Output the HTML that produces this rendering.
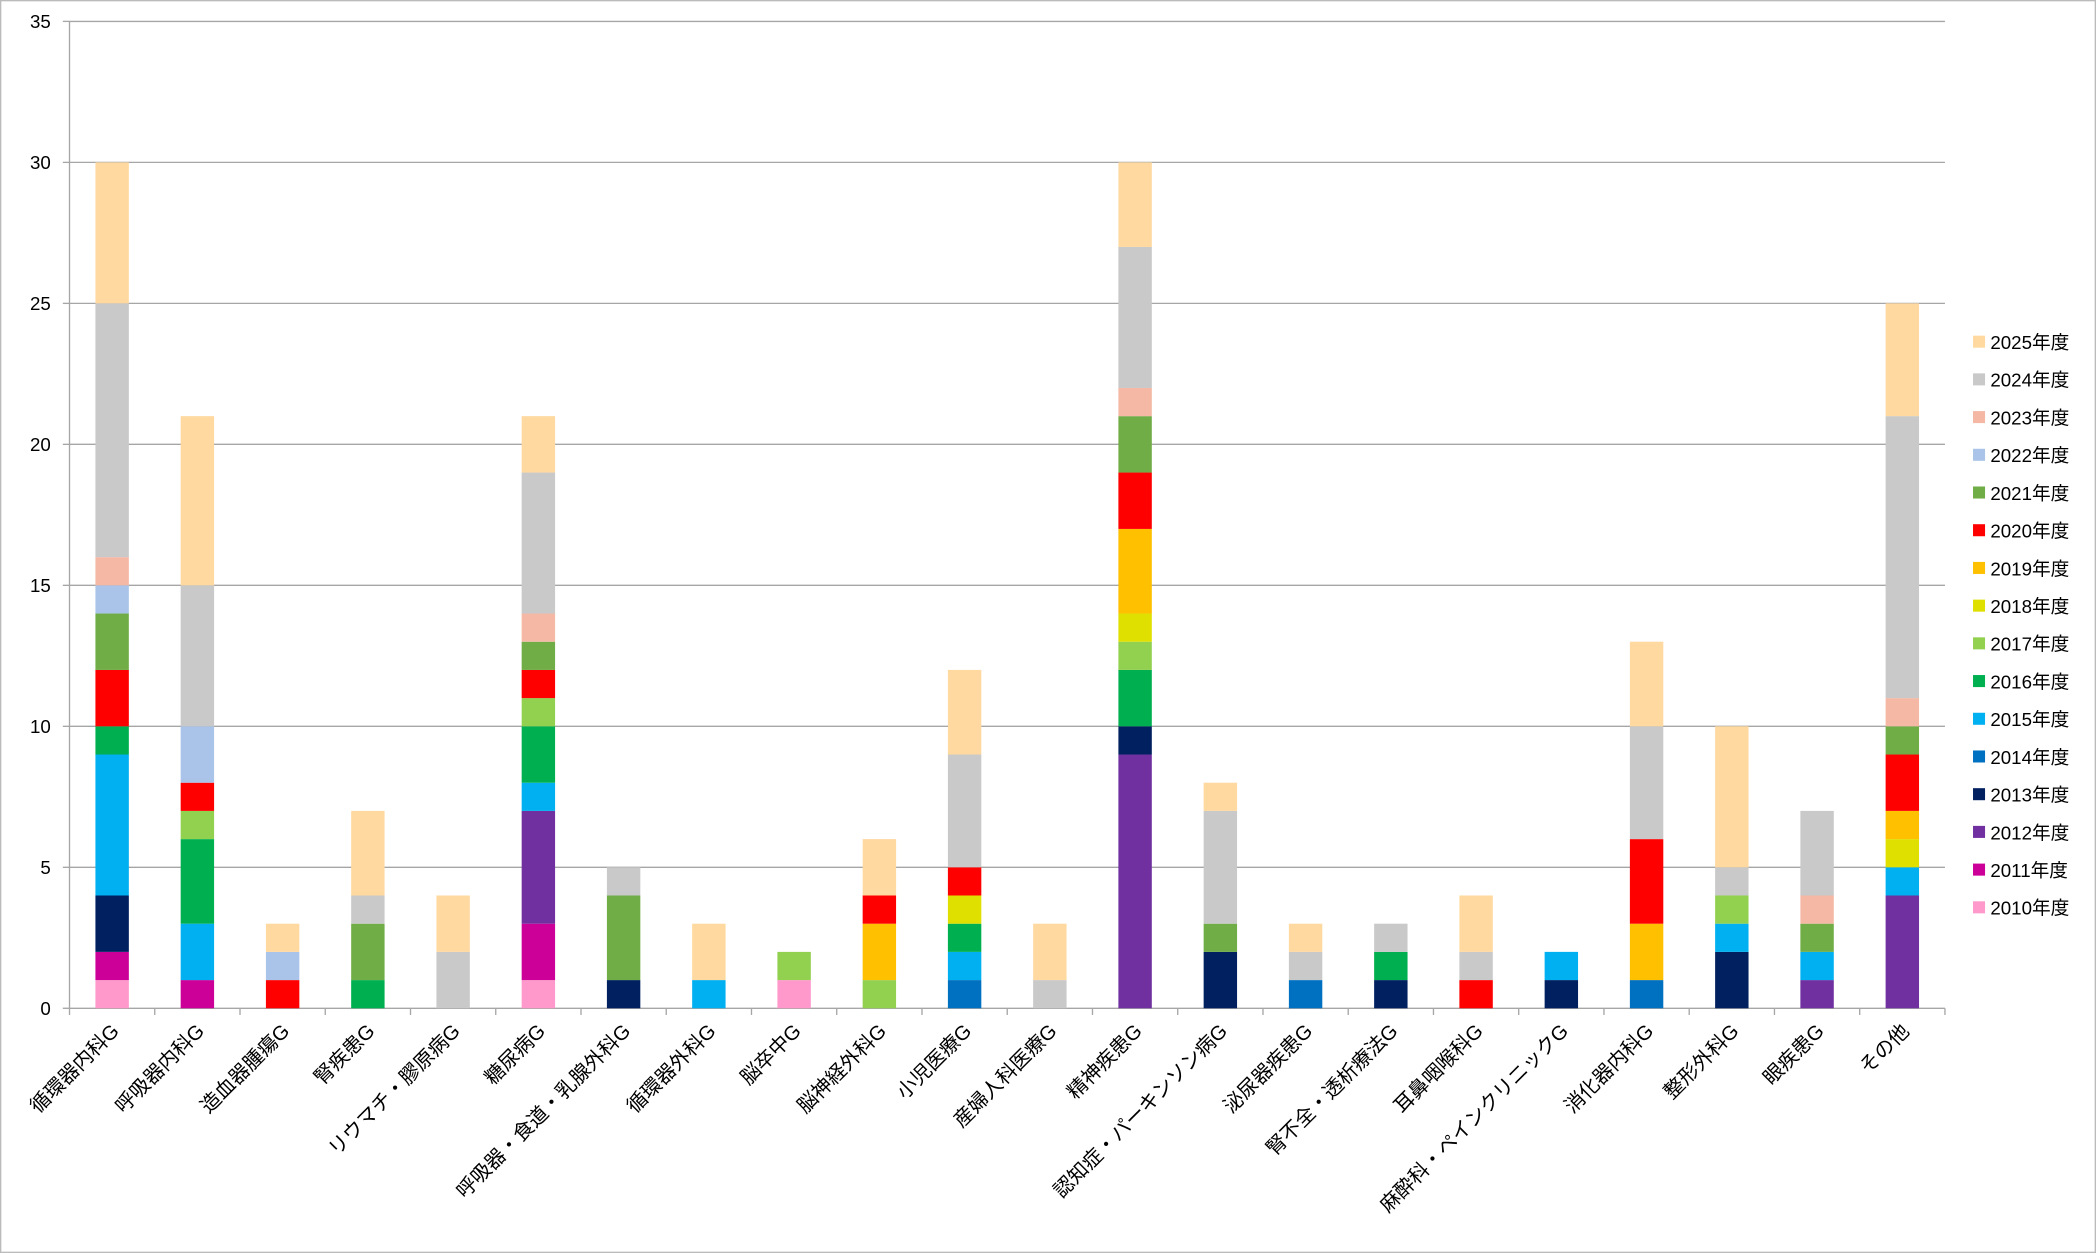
<!DOCTYPE html>
<html><head><meta charset="utf-8"><style>
html,body{margin:0;padding:0;background:#fff}
svg{display:block}
text{font-family:"Liberation Sans","Noto Sans CJK JP",sans-serif;fill:#000}
</style></head><body>
<svg id="c" width="2096" height="1253" viewBox="0 0 1568 937" preserveAspectRatio="none" xmlns="http://www.w3.org/2000/svg"></svg>
<script>
const svg=document.getElementById('c');
const colors=['#FF99CC','#CC0099','#7030A0','#002060','#0070C0','#00B0F0','#00B050','#92D050','#E0E000','#FFC000','#FF0000','#70AD47','#A9C4E8','#F4B8A4','#C9C9C9','#FFD9A0'];
const cats=[
['循環器内科G',{2010:1,2011:1,2013:2,2015:5,2016:1,2020:2,2021:2,2022:1,2023:1,2024:9,2025:5}],
['呼吸器内科G',{2011:1,2015:2,2016:3,2017:1,2020:1,2022:2,2024:5,2025:6}],
['造血器腫瘍G',{2020:1,2022:1,2025:1}],
['腎疾患G',{2016:1,2021:2,2024:1,2025:3}],
['リウマチ・膠原病G',{2024:2,2025:2}],
['糖尿病G',{2010:1,2011:2,2012:4,2015:1,2016:2,2017:1,2020:1,2021:1,2023:1,2024:5,2025:2}],
['呼吸器・食道・乳腺外科G',{2013:1,2021:3,2024:1}],
['循環器外科G',{2015:1,2025:2}],
['脳卒中G',{2010:1,2017:1}],
['脳神経外科G',{2017:1,2019:2,2020:1,2025:2}],
['小児医療G',{2014:1,2015:1,2016:1,2018:1,2020:1,2024:4,2025:3}],
['産婦人科医療G',{2024:1,2025:2}],
['精神疾患G',{2012:9,2013:1,2016:2,2017:1,2018:1,2019:3,2020:2,2021:2,2023:1,2024:5,2025:3}],
['認知症・パーキンソン病G',{2013:2,2021:1,2024:4,2025:1}],
['泌尿器疾患G',{2014:1,2024:1,2025:1}],
['腎不全・透析療法G',{2013:1,2016:1,2024:1}],
['耳鼻咽喉科G',{2020:1,2024:1,2025:2}],
['麻酔科・ペインクリニックG',{2013:1,2015:1}],
['消化器内科G',{2014:1,2019:2,2020:3,2024:4,2025:3}],
['整形外科G',{2013:2,2015:1,2017:1,2024:1,2025:5}],
['眼疾患G',{2012:1,2015:1,2021:1,2023:1,2024:3}],
['その他',{2012:4,2015:1,2018:1,2019:1,2020:2,2021:1,2023:1,2024:10,2025:4}]
];
const y0=754,y35=16,u=(y0-y35)/35,x0=52,x1=1455,step=(x1-x0)/22,bw=25;
let h='<rect x="0.5" y="0.5" width="1567" height="936" fill="#fff" stroke="#bbb"/>';
for(let v=0;v<=35;v+=5){const y=y0-v*u;
 if(v>0)h+=`<line x1="${x0}" y1="${y}" x2="${x1}" y2="${y}" stroke="#a6a6a6" stroke-width="1"/>`;
 h+=`<text x="${x0-14}" y="${y+5}" font-size="14" text-anchor="end">${v}</text>`;
 h+=`<line x1="${x0-5}" y1="${y}" x2="${x0}" y2="${y}" stroke="#a6a6a6"/>`;}
h+=`<line x1="${x0}" y1="${y35}" x2="${x0}" y2="${y0}" stroke="#a6a6a6"/>`;
h+=`<line x1="${x0}" y1="${y0}" x2="${x1}" y2="${y0}" stroke="#a6a6a6"/>`;
for(let i=0;i<=22;i++){const x=x0+i*step;h+=`<line x1="${x}" y1="${y0}" x2="${x}" y2="${y0+5}" stroke="#a6a6a6"/>`;}
cats.forEach((c,i)=>{const cx=x0+step*(i+0.5);let acc=0;
 for(let yr=2010;yr<=2025;yr++){const v=c[1][yr];if(!v)continue;
  const yt=y0-(acc+v)*u;h+=`<rect x="${cx-bw/2}" y="${yt}" width="${bw}" height="${v*u}" fill="${colors[yr-2010]}"/>`;acc+=v;}
 h+=`<text x="0" y="0" font-size="15" text-anchor="end" transform="translate(${cx+6},${y0+18}) rotate(-45)">${c[0]}</text>`;
});
for(let k=0;k<16;k++){const yr=2025-k;const y=256+k*28.2;
 h+=`<rect x="1476" y="${y-5}" width="9" height="9" fill="${colors[yr-2010]}"/>`;
 h+=`<text x="1489" y="${y+5}" font-size="14">${yr}年度</text>`;}
svg.innerHTML=h;
</script>
</body></html>
